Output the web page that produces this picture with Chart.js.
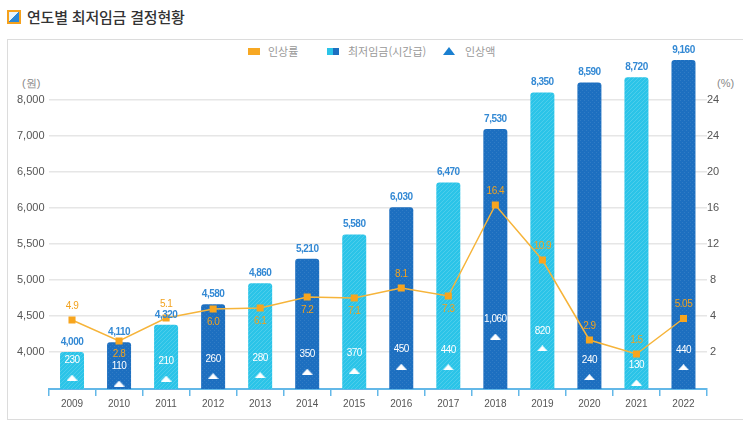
<!DOCTYPE html>
<html lang="ko">
<head>
<meta charset="utf-8">
<script src="https://cdn.jsdelivr.net/npm/chart.js@4.4.1/dist/chart.umd.min.js"></script>
<style>
    body { margin: 0; width: 743px; height: 422px; overflow: hidden; background: #fff; font-family: "Noto Sans CJK KR", sans-serif; }
    #title { position: absolute; left: 27px; top: 6px; font-size: 15px; font-weight: 500; color: #333; letter-spacing: -0.2px; }
    #titleIcon { position: absolute; left: 7px; top: 10px; width: 10px; height: 10px; border: 2px solid #f5a11c; background: linear-gradient(135deg, #e6f3fb 50%, #2a87d6 50%); }
    #box { position: absolute; left: 7px; top: 39px; width: 760px; height: 379px; border: 1px solid #dcdcdc; }
    #chartWrap { position: absolute; left: 0; top: 0; width: 743px; height: 422px; }
    .unit { position: absolute; font-size: 11px; color: #888; font-family: "Liberation Sans", Arial, sans-serif; }
    .legend { position: absolute; top: 43px; font-size: 11px; color: #999; }
    .sw { position: absolute; }
</style>
</head>
<body>
<div id="titleIcon"></div>
<div id="title">연도별 최저임금 결정현황</div>
<div id="box"></div>

<div class="sw" style="left:248px; top:48px; width:12px; height:7px; background:#f7a823;"></div>
<div class="legend" style="left:268px;">인상률</div>
<div class="sw" style="left:327px; top:48px; width:6px; height:7px; background:#2bc4e8;"></div>
<div class="sw" style="left:333px; top:48px; width:6px; height:7px; background:#1d6fc0;"></div>
<div class="legend" style="left:348px;">최저임금(시간급)</div>
<div class="sw" style="left:443px; top:47px; width:0; height:0; border-left:6px solid transparent; border-right:6px solid transparent; border-bottom:8px solid #1a7fd0;"></div>
<div class="legend" style="left:465px;">인상액</div>

<div class="unit" style="left:22px; top:76px;">(원)</div>
<div class="unit" style="left:717px; top:77px;">(%)</div>

<div id="chartWrap"><canvas id="wageChart" width="743" height="422"></canvas></div>

<script>
// data
const years = ["2009", "2010", "2011", "2012", "2013", "2014", "2015", "2016", "2017", "2018", "2019", "2020", "2021", "2022"];
const minWage = [4000, 4110, 4320, 4580, 4860, 5210, 5580, 6030, 6470, 7530, 8350, 8590, 8720, 9160];
const raiseRate = [4.9, 2.8, 5.1, 6.0, 6.1, 7.2, 7.1, 8.1, 7.3, 16.4, 10.9, 2.9, 1.5, 5.05];
const raiseAmount = [230, 110, 210, 260, 280, 350, 370, 450, 440, 1060, 820, 240, 130, 440];
const leftTickLabels = ["4,000", "4,500", "5,000", "5,500", "6,000", "6,500", "7,000", "8,000"];
const rightTickLabels = ["2", "4", "8", "12", "16", "20", "24", "24"];

// where the rate label goes (above / below its marker)
const rateLabelSide = ["top", "bottom", "top", "bottom", "bottom", "bottom", "bottom", "top", "bottom", "top", "top", "top", "top", "top"];

const numFont = '"Liberation Sans", Arial, sans-serif';

// bar fill patterns
function makePattern(base, draw) {
    const c = document.createElement("canvas");
    c.width = 4; c.height = 4;
    const g = c.getContext("2d");
    g.fillStyle = base;
    g.fillRect(0, 0, 4, 4);
    draw(g);
    return document.getElementById("wageChart").getContext("2d").createPattern(c, "repeat");
}
const lightFill = makePattern("#2bc4e8", (g) => {
    g.strokeStyle = "rgba(255,255,255,0.16)";
    g.lineWidth = 1;
    g.beginPath(); g.moveTo(0, 4); g.lineTo(4, 0); g.stroke();
});
const darkFill = makePattern("#1d6fc0", (g) => {
    g.fillStyle = "rgba(255,255,255,0.09)";
    g.fillRect(0, 0, 1, 1);
    g.fillRect(2, 2, 1, 1);
});

// flat white triangle for the increase amount
const tri = document.createElement("canvas");
tri.width = 11; tri.height = 6;
(function () {
    const g = tri.getContext("2d");
    g.fillStyle = "#fff";
    g.beginPath(); g.moveTo(0, 6); g.lineTo(5.5, 0); g.lineTo(11, 6); g.closePath(); g.fill();
})();

function rateText(v) {
    return Number.isInteger(v) ? v.toFixed(1) : String(v);
}

const labelPlugin = {
    id: "valueLabels",
    afterDatasetsDraw(chart) {
        const ctx = chart.ctx;
        ctx.save();
        ctx.textAlign = "center";

        // wage above the bars
        ctx.font = "bold 10px " + numFont;
        ctx.letterSpacing = "-0.5px";
        ctx.fillStyle = "#3389d4";
        ctx.textBaseline = "bottom";
        chart.getDatasetMeta(0).data.forEach((bar, i) => {
            ctx.fillText(minWage[i].toLocaleString("en-US"), bar.x, bar.y - 5);
        });

        // increase amount above the triangles
        ctx.font = "10px " + numFont;
        ctx.fillStyle = "#fff";
        ctx.textBaseline = "middle";
        chart.getDatasetMeta(1).data.forEach((pt, i) => {
            ctx.fillText(raiseAmount[i].toLocaleString("en-US"), pt.x, pt.y - 17);
        });

        // rate next to the markers
        ctx.fillStyle = "#f2a21e";
        chart.getDatasetMeta(2).data.forEach((pt, i) => {
            const dy = rateLabelSide[i] === "top" ? -14 : 13;
            ctx.fillText(rateText(raiseRate[i]), pt.x, pt.y + dy);
        });
        ctx.restore();
    }
};

const ctx = document.getElementById("wageChart").getContext("2d");
new Chart(ctx, {
    type: "bar",
    data: {
        labels: years,
        datasets: [
            {
                label: "최저임금(시간급)",
                data: minWage,
                yAxisID: "yBar",
                backgroundColor: minWage.map((_, i) => (i % 2 === 0 ? lightFill : darkFill)),
                borderWidth: 0,
                borderRadius: { topLeft: 3, topRight: 3 },
                borderSkipped: "bottom",
                barPercentage: 1,
                categoryPercentage: 0.51,
                order: 3
            },
            {
                type: "line",
                label: "인상액",
                data: raiseAmount,
                yAxisID: "yInc",
                showLine: false,
                pointStyle: tri,
                pointRadius: 5,
                order: 2
            },
            {
                type: "line",
                label: "인상률",
                data: raiseRate,
                yAxisID: "yRate",
                borderColor: "#f6b43a",
                borderWidth: 1.5,
                pointStyle: "rect",
                pointRadius: 5,
                pointBackgroundColor: "#f7a51e",
                pointBorderColor: "#f7a51e",
                pointBorderWidth: 0,
                tension: 0,
                order: 1
            }
        ]
    },
    options: {
        responsive: false,
        animation: false,
        layout: { padding: { top: 40, left: 0, right: 0, bottom: 0 } },
        plugins: {
            legend: { display: false },
            title: { display: false },
            tooltip: { enabled: false }
        },
        scales: {
            x: {
                grid: { offset: true, drawOnChartArea: false, color: "#63b8e8", lineWidth: 1.5, tickLength: 7 },
                border: { color: "#63b8e8", width: 2 },
                ticks: { color: "#555", font: { family: "Liberation Sans, Arial", size: 10 }, padding: 2 },
                afterFit: (s) => { s.height = 33; }
            },
            y: {
                position: "left",
                min: -37 / 36,
                max: 312 / 36,
                afterBuildTicks: (axis) => { axis.ticks = leftTickLabels.map((_, i) => ({ value: i })); },
                ticks: { callback: (v) => leftTickLabels[Math.round(v)], color: "#555", font: { family: "Liberation Sans, Arial", size: 11 }, padding: 4 },
                grid: { color: "#e6e6e6", lineWidth: 1.5, drawTicks: false },
                border: { display: false },
                afterFit: (s) => { s.width = 48.5; }
            },
            y2: {
                position: "right",
                min: -37 / 36,
                max: 312 / 36,
                afterBuildTicks: (axis) => { axis.ticks = rightTickLabels.map((_, i) => ({ value: i })); },
                ticks: { callback: (v) => rightTickLabels[Math.round(v)], color: "#555", font: { family: "Liberation Sans, Arial", size: 11 }, crossAlign: "center", padding: 0 },
                grid: { display: false, drawTicks: false },
                border: { display: false },
                afterFit: (s) => { s.width = 36; }
            },
            yBar: { type: "logarithmic", display: false, min: 3600.6, max: 9692 },
            yRate: { display: false, min: -2, max: 32.9 },
            yInc: { display: false, min: 0, max: 7050 }
        }
    },
    plugins: [labelPlugin]
});
</script>
</body>
</html>
